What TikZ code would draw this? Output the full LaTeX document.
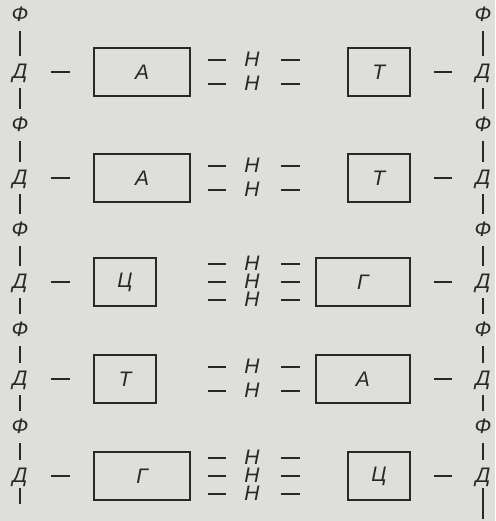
\documentclass[tikz,border=0pt]{standalone}
\usepackage{fontspec}
\setmainfont{Liberation Sans}
\definecolor{paper}{RGB}{222,222,219}
\definecolor{ink}{RGB}{40,40,40}
\begin{document}
\begin{tikzpicture}[x=.5pt,y=-.5pt,color=ink,
  lbl/.style={font=\fontsize{10.5}{12}\selectfont\itshape,inner sep=0pt,text height=7.5pt,text depth=1pt},
  base/.style={draw,line width=1.1pt,minimum height=24pt,inner sep=0pt,font=\fontsize{10.5}{12}\selectfont\itshape},
  link/.style={line width=.8pt,shorten <=11.5pt,shorten >=11.5pt},
  bar/.style={line width=.8pt,shorten <=3.5pt,shorten >=3.5pt}]
\fill[paper] (0,0) rectangle (495,521);
\useasboundingbox (0,0) rectangle (495,521);
\foreach \r/\y in {1/15,2/125,3/230,4/330,5/427}{
\node[lbl] (fl\r) at (20,\y) {Ф};
\node[lbl] (fr\r) at (483,\y) {Ф};}
\foreach \r/\y/\lb/\lw/\nb/\rb/\rw in {1/72/А/48/2/Т/31,2/178/А/48/2/Т/31,3/282/Ц/31/3/Г/47,4/379/Т/31/2/А/47,5/476/Г/48/3/Ц/31}{
\node[lbl] (dl\r) at (20,\y) {Д};
\node[lbl] (dr\r) at (483,\y) {Д};
\node[base,minimum width=\lw pt,anchor=west] (bl\r) at (93,\y) {\lb};
\node[base,minimum width=\rw pt,anchor=east] (br\r) at (411,\y) {\rb};
\draw[link] (dl\r) -- (bl\r);
\draw[link] (br\r) -- (dr\r);
\draw[bar] (fl\r) -- (dl\r);
\draw[bar] (fr\r) -- (dr\r);
\ifnum\nb=2 \def\offs{-12,12}\else\def\offs{-18,0,18}\fi
\foreach \k [count=\c] in \offs{
\node[lbl] (h\r\c) at (252,\y+\k) {Н};
\coordinate (hl\r\c) at (208,\y+\k);
\coordinate (hr\r\c) at (300,\y+\k);
\draw[line width=.8pt,shorten >=9pt] (hl\r\c) -- (h\r\c);
\draw[line width=.8pt,shorten <=10.5pt] (h\r\c) -- (hr\r\c);}
}
\foreach \r [evaluate=\r as \s using int(\r+1)] in {1,...,4}{
\draw[bar] (dl\r) -- (fl\s);
\draw[bar] (dr\r) -- (fr\s);}
\coordinate (el) at (20,504);
\coordinate (er) at (483,519);
\draw[bar,shorten <=1.5pt,shorten >=0pt] (dl5) -- (el);
\draw[bar,shorten <=1.5pt,shorten >=0pt] (dr5) -- (er);
\end{tikzpicture}
\end{document}
